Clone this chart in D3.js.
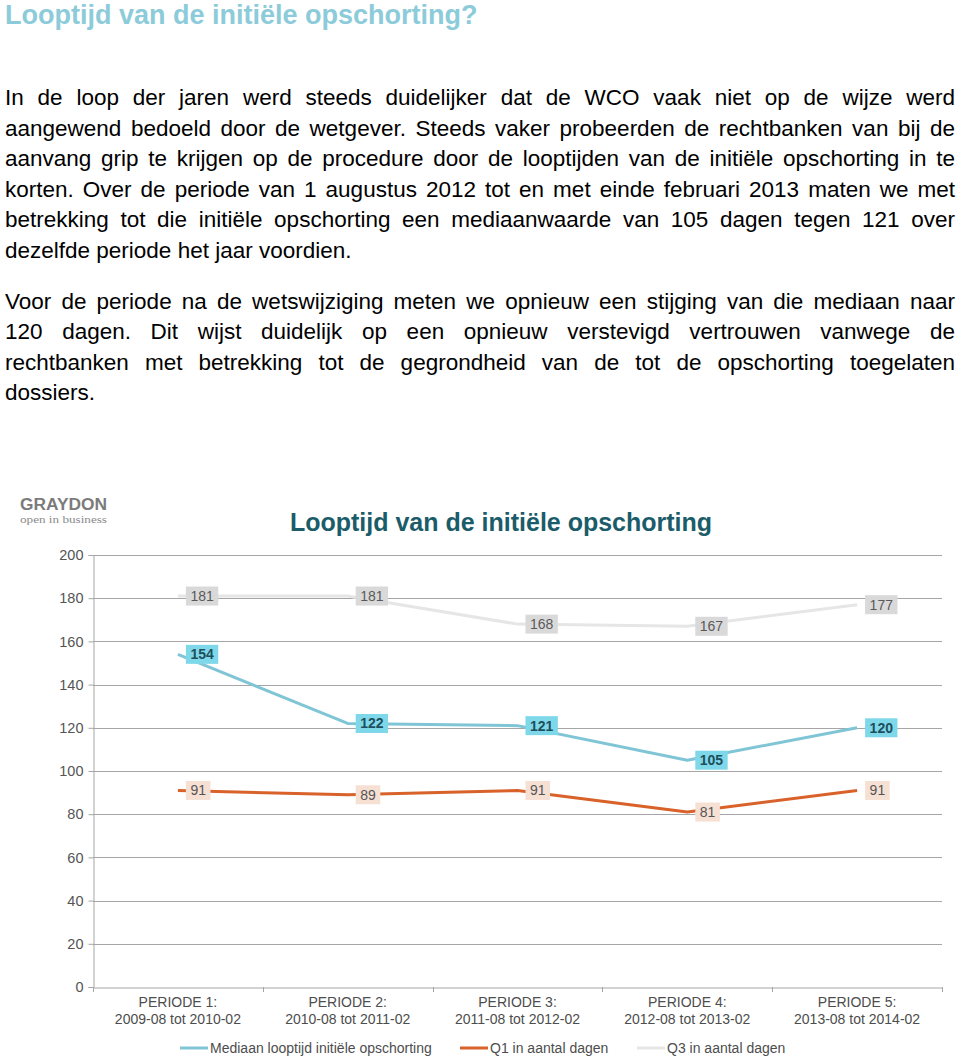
<!DOCTYPE html>
<html>
<head>
<meta charset="utf-8">
<script src="https://cdn.jsdelivr.net/npm/d3@7"></script>
<style>
  html, body { margin: 0; padding: 0; background: #fff; }
  svg { display: block; }
</style>
</head>
<body>
<svg id="chart" width="960" height="1057"></svg>
<script>
// ---------- data ----------
const pageTitle = "Looptijd van de initiële opschorting?";
const paragraph1 = [
  "In de loop der jaren werd steeds duidelijker dat de WCO vaak niet op de wijze werd",
  "aangewend bedoeld door de wetgever. Steeds vaker probeerden de rechtbanken van bij de",
  "aanvang grip te krijgen op de procedure door de looptijden van de initiële opschorting in te",
  "korten. Over de periode van 1 augustus 2012 tot en met einde februari 2013 maten we met",
  "betrekking tot die initiële opschorting een mediaanwaarde van 105 dagen tegen 121 over",
  "dezelfde periode het jaar voordien."
];
const paragraph2 = [
  "Voor de periode na de wetswijziging meten we opnieuw een stijging van die mediaan naar",
  "120 dagen. Dit wijst duidelijk op een opnieuw verstevigd vertrouwen vanwege de",
  "rechtbanken met betrekking tot de gegrondheid van de tot de opschorting toegelaten",
  "dossiers."
];
const chartTitle = "Looptijd van de initiële opschorting";
const periods = ["PERIODE 1:", "PERIODE 2:", "PERIODE 3:", "PERIODE 4:", "PERIODE 5:"];
const periodDates = ["2009-08 tot 2010-02", "2010-08 tot 2011-02", "2011-08 tot 2012-02", "2012-08 tot 2013-02", "2013-08 tot 2014-02"];
const medianValues = [154, 122, 121, 105, 120];
const q1Values = [91, 89, 91, 81, 91];
const q3Values = [181, 181, 168, 167, 177];
const yTicks = [0, 20, 40, 60, 80, 100, 120, 140, 160, 180, 200];
const seriesNames = ["Mediaan looptijd initiële opschorting", "Q1 in aantal dagen", "Q3 in aantal dagen"];

// ---------- setup ----------
const svg = d3.select("#chart");
const FONT = "'Liberation Sans', Arial, sans-serif";

// page title
svg.append("text")
  .attr("x", 5).attr("y", 24)
  .attr("font-family", FONT).attr("font-weight", "bold")
  .attr("font-size", 27).attr("fill", "#8ccbd9")
  .text(pageTitle);

// justified paragraph lines
function drawParagraph(lines, firstBaseline) {
  lines.forEach((line, i) => {
    const t = svg.append("text")
      .attr("x", 5).attr("y", firstBaseline + i * 30.5)
      .attr("font-family", FONT).attr("font-size", 22.5)
      .attr("fill", "#000")
      .text(line);
    if (i < lines.length - 1) {
      const len = t.node().getComputedTextLength();
      const spaces = (line.match(/ /g) || []).length;
      if (spaces > 0) t.attr("word-spacing", (950 - len) / spaces);
    }
  });
}
drawParagraph(paragraph1, 105);
drawParagraph(paragraph2, 308.5);

// ---------- logo ----------
svg.append("text")
  .attr("x", 20).attr("y", 509.5)
  .attr("font-family", FONT).attr("font-weight", "bold")
  .attr("font-size", 16).attr("fill", "#7b7b7b")
  .attr("textLength", 87).attr("lengthAdjust", "spacingAndGlyphs")
  .text("GRAYDON");
svg.append("text")
  .attr("x", 20).attr("y", 523)
  .attr("font-family", "'Liberation Serif', 'DejaVu Serif', serif")
  .attr("font-size", 10.5).attr("fill", "#8a8a8a")
  .attr("textLength", 87).attr("lengthAdjust", "spacingAndGlyphs")
  .text("open in business");

// chart title
svg.append("text")
  .attr("x", 501).attr("y", 531)
  .attr("text-anchor", "middle")
  .attr("font-family", FONT).attr("font-weight", "bold")
  .attr("font-size", 25).attr("fill", "#1b5c6a")
  .text(chartTitle);

// ---------- scales ----------
const x = d3.scaleBand().domain(periods).range([93, 942]);
const y = d3.scaleLinear().domain([0, 200]).range([987, 555]);
const cx = i => x(periods[i]) + x.bandwidth() / 2;

// gridlines
svg.append("g")
  .selectAll("line")
  .data(yTicks.filter(d => d > 0))
  .join("line")
  .attr("x1", 93).attr("x2", 942)
  .attr("y1", d => Math.round(y(d)) + 0.5).attr("y2", d => Math.round(y(d)) + 0.5)
  .attr("stroke", "#a6a6a6").attr("stroke-width", 1);

// y axis
const yAxis = svg.append("g")
  .attr("transform", "translate(93.5,0)")
  .call(d3.axisLeft(y).tickValues(yTicks).tickSize(5).tickPadding(5));
yAxis.select(".domain").attr("stroke", "#a6a6a6");
yAxis.selectAll(".tick line").attr("stroke", "#a6a6a6");
yAxis.selectAll(".tick text")
  .attr("font-family", FONT).attr("font-size", 14.5).attr("fill", "#555");

// x axis
const xAxis = svg.append("g")
  .attr("transform", "translate(0,987.5)")
  .call(d3.axisBottom(x).tickSize(0).tickFormat(""));
xAxis.select(".domain").attr("stroke", "#a6a6a6");
xAxis.selectAll(".tick").remove();
svg.append("g").selectAll("line")
  .data(d3.range(periods.length + 1))
  .join("line")
  .attr("x1", i => Math.round(93 + i * x.bandwidth()) + 0.5)
  .attr("x2", i => Math.round(93 + i * x.bandwidth()) + 0.5)
  .attr("y1", 987).attr("y2", 992)
  .attr("stroke", "#a6a6a6");

// category labels
const cat = svg.append("g").attr("font-family", FONT).attr("font-size", 14)
  .attr("fill", "#4d4d4d").attr("text-anchor", "middle");
periods.forEach((p, i) => {
  cat.append("text").attr("x", cx(i)).attr("y", 1006.5).text(p);
  cat.append("text").attr("x", cx(i)).attr("y", 1023.5).text(periodDates[i]);
});

// ---------- lines ----------
const series = [
  { name: seriesNames[2], values: q3Values, stroke: "#e6e6e6", box: "#d9d9d9", text: "#595959", bold: false },
  { name: seriesNames[0], values: medianValues, stroke: "#7fc5d6", box: "#7fd8ea", text: "#1d4f5c", bold: true },
  { name: seriesNames[1], values: q1Values, stroke: "#d8622a", box: "#f6e0d4", text: "#555", bold: false }
];
const line = d3.line().x((d, i) => cx(i)).y(d => y(d));
series.forEach(s => {
  svg.append("path")
    .attr("d", line(s.values))
    .attr("fill", "none").attr("stroke", s.stroke)
    .attr("stroke-width", 3).attr("stroke-linejoin", "round");
});

// data labels
series.forEach(s => {
  const g = svg.append("g");
  s.values.forEach((v, i) => {
    const lg = g.append("g");
    const t = lg.append("text")
      .attr("x", cx(i) + 8 + 4.5).attr("y", y(v) + 5)
      .attr("font-family", FONT).attr("font-size", 14)
      .attr("font-weight", s.bold ? "bold" : "normal")
      .attr("fill", s.text)
      .text(v);
    const w = t.node().getComputedTextLength() + 9;
    lg.insert("rect", "text")
      .attr("x", cx(i) + 8).attr("y", y(v) - 9.5)
      .attr("width", w).attr("height", 19)
      .attr("fill", s.box);
  });
});

// ---------- legend ----------
const legendItems = [
  { name: seriesNames[0], stroke: "#7fc5d6", x0: 180 },
  { name: seriesNames[1], stroke: "#d8622a", x0: 460 },
  { name: seriesNames[2], stroke: "#e6e6e6", x0: 637 }
];
legendItems.forEach(li => {
  svg.append("line")
    .attr("x1", li.x0).attr("x2", li.x0 + 28)
    .attr("y1", 1048).attr("y2", 1048)
    .attr("stroke", li.stroke).attr("stroke-width", 3);
  svg.append("text")
    .attr("x", li.x0 + 30).attr("y", 1053)
    .attr("font-family", FONT).attr("font-size", 14)
    .attr("fill", "#4d4d4d")
    .text(li.name);
});
</script>
</body>
</html>
